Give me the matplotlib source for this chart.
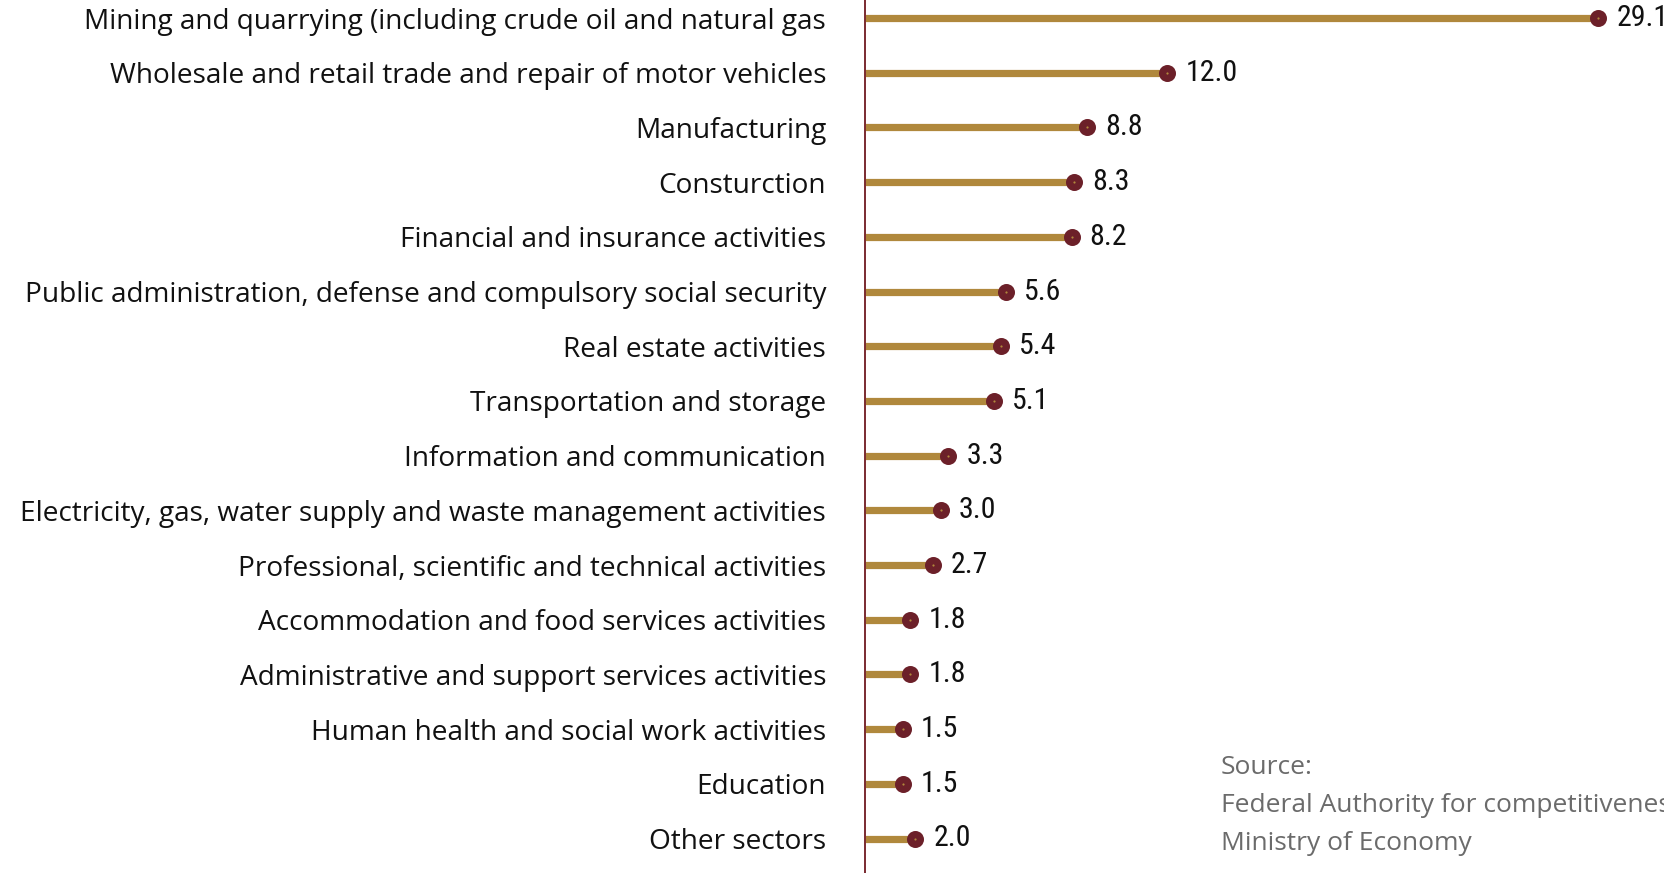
import matplotlib
matplotlib.use("Agg")
import matplotlib.pyplot as plt
from matplotlib import font_manager
from matplotlib.font_manager import FontProperties

categories = [
    "Mining and quarrying (including crude oil and natural gas",
    "Wholesale and retail trade and repair of motor vehicles",
    "Manufacturing",
    "Consturction",
    "Financial and insurance activities",
    "Public administration, defense and compulsory social security",
    "Real estate activities",
    "Transportation and storage",
    "Information and communication",
    "Electricity, gas, water supply and waste management activities",
    "Professional, scientific and technical activities",
    "Accommodation and food services activities",
    "Administrative and support services activities",
    "Human health and social work activities",
    "Education",
    "Other sectors",
]
values = [29.1, 12.0, 8.8, 8.3, 8.2, 5.6, 5.4, 5.1, 3.3, 3.0, 2.7, 1.8, 1.8, 1.5, 1.5, 2.0]
source_lines = ["Source:", "Federal Authority for competitiveness and statistics", "Ministry of Economy"]

# pick a condensed / narrow font for the value labels if one is installed
narrow = None
for f in font_manager.fontManager.ttflist:
    key = (f.fname + " " + f.name).lower()
    if ("condensed" in key or "narrow" in key) and f.weight in (400, "normal", "regular") \
            and f.style == "normal" and "semi" not in key and "extra" not in key:
        if narrow is None or "liberation" in key or "roboto" in key:
            narrow = f.fname
num_fp = FontProperties(fname=narrow, size=21.5) if narrow else FontProperties(family="DejaVu Sans", size=17)

names = {f.name for f in font_manager.fontManager.ttflist}
lab_font = "Open Sans" if "Open Sans" in names else "DejaVu Sans"

W, H = 1665, 873
fig = plt.figure(figsize=(W / 100, H / 100), dpi=100)
left_px = 865
ax = fig.add_axes([left_px / W, 0, 1 - left_px / W, 1])

stem_c = "#b0883c"
dot_c = "#6c2029"
axis_c = "#7a2a30"

n = len(categories)
ys = list(range(n))
for y, v in zip(ys, values):
    ax.plot([0, v], [y, y], color=stem_c, lw=5.2, solid_capstyle="butt", zorder=2)
ax.scatter(values, ys, s=150, color=dot_c, zorder=3, linewidths=0)
ax.scatter(values, ys, s=2.5, color=stem_c, zorder=4, linewidths=0)
for y, v in zip(ys, values):
    ax.annotate(f"{v:.1f}", (v, y), xytext=(13, 0), textcoords="offset points",
                ha="left", va="center", fontproperties=num_fp,
                color="#111111", annotation_clip=False)

row_h = 54.7
top_px = 18
ax.set_ylim((H - top_px) / row_h, -top_px / row_h)
ax.set_xlim(0, (W - left_px) / 25.2)

ax.set_yticks(ys)
ax.set_yticklabels(categories, fontsize=20.2, family=lab_font, color="#111111")
ax.tick_params(axis="y", length=0, pad=28)
ax.set_xticks([])
for s in ["top", "right", "bottom"]:
    ax.spines[s].set_visible(False)
ax.spines["left"].set_color(axis_c)
ax.spines["left"].set_linewidth(1.4)
ax.patch.set_visible(False)

for t, yp in zip(source_lines, [768, 806, 843]):
    fig.text(1221 / W, 1 - yp / H, t, fontsize=19, family=lab_font,
             color="#6b6b6b", ha="left", va="center")

fig.savefig("out.png", dpi=100)
